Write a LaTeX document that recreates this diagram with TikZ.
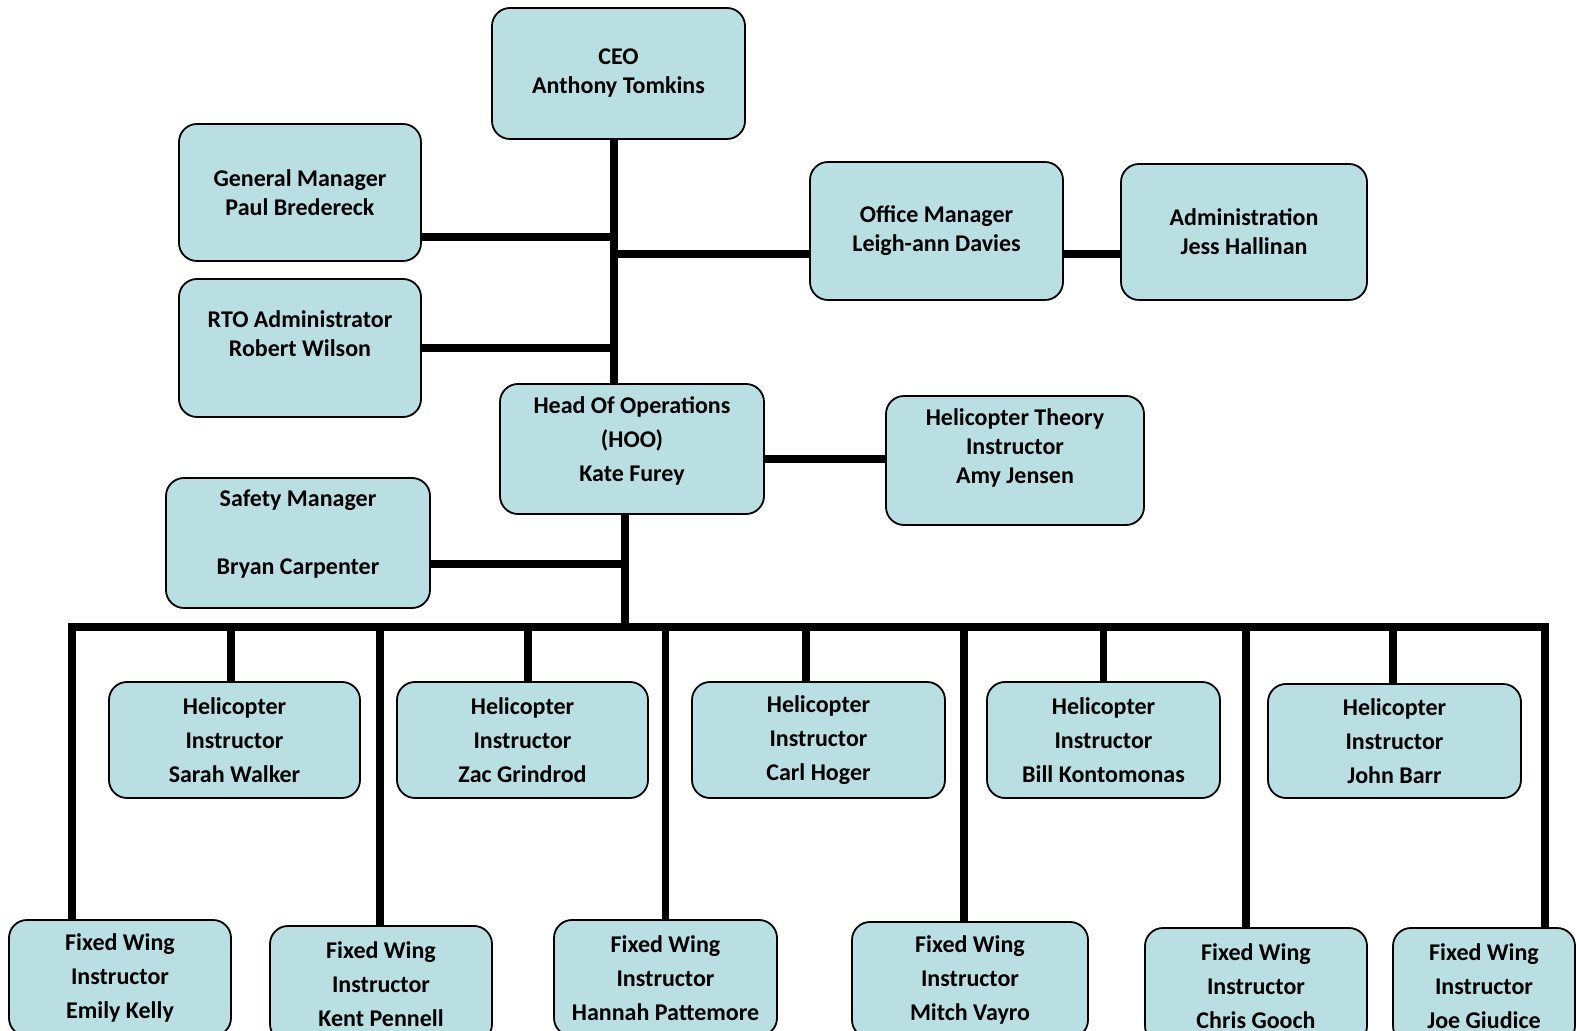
\documentclass[tikz,border=0pt]{standalone}
\usepackage{fontspec}
\setmainfont{Carlito}
\usetikzlibrary{calc}
\definecolor{boxblue}{HTML}{B9DFE3}

\begin{document}
\begin{tikzpicture}[
    x=0.5pt, y=-0.5pt,
    font=\fontsize{12pt}{14.5pt}\selectfont\bfseries,
    box/.style={draw, line width=0.9pt, rounded corners=9pt, fill=boxblue,
        align=center, inner sep=0pt},
    link/.style={line width=3.6pt}
]
\useasboundingbox (0,0) rectangle (1576,1031);
\clip (0,0) rectangle (1576,1031);

% top level
\node[box, minimum width=126.5pt, minimum height=65.5pt] (ceo) at (618.5,73.5)
    {CEO\\Anthony Tomkins};
\node[box, minimum width=121pt, minimum height=68.5pt] (gm) at (300,192.5)
    {General Manager\\Paul Bredereck};
\node[box, minimum width=121pt, minimum height=69pt] (rto) at (300,348)
    {RTO Administrator\\Robert Wilson\\~};
\node[box, minimum width=126.5pt, minimum height=69pt] (office) at (936.5,231)
    {Office Manager\\Leigh-ann Davies};
\node[box, minimum width=123pt, minimum height=68pt] (admin) at (1244,232)
    {Administration\\Jess Hallinan};

% operations
\node[box, minimum width=132pt, minimum height=65pt] (hoo) at (632,449)
    {Head Of Operations\\[2.5pt](HOO)\\[2.5pt]Kate Furey\\[-4.5pt]~};
\node[box, minimum width=129pt, minimum height=64.5pt] (theory) at (1015,460.5)
    {Helicopter Theory\\Instructor\\Amy Jensen\\~};
\node[box, minimum width=132pt, minimum height=65pt] (safety) at (298,543)
    {Safety Manager\\[19.7pt]Bryan Carpenter\\[-3.5pt]~};

% helicopter instructors
\node[box, minimum width=125.5pt, minimum height=58pt] (sarah) at (234.5,740)
    {Helicopter\\[2.5pt]Instructor\\[2.5pt]Sarah Walker};
\node[box, minimum width=125.5pt, minimum height=58pt] (zac) at (522.5,740)
    {Helicopter\\[2.5pt]Instructor\\[2.5pt]Zac Grindrod};
\node[box, minimum width=126.5pt, minimum height=58pt] (carl) at (818.5,740)
    {Helicopter\\[2.5pt]Instructor\\[2.5pt]Carl Hoger};
\node[box, minimum width=116.5pt, minimum height=58pt] (bill) at (1103.5,740)
    {Helicopter\\[2.5pt]Instructor\\[2.5pt]Bill Kontomonas};
\node[box, minimum width=126.5pt, minimum height=57pt] (john) at (1394.5,741)
    {Helicopter\\[2.5pt]Instructor\\[2.5pt]John Barr};

% fixed wing instructors
\node[box, minimum width=111pt, minimum height=58pt] (emily) at (120,978)
    {Fixed Wing\\[2.5pt]Instructor\\[2.5pt]Emily Kelly};
\node[box, minimum width=111pt, minimum height=58pt] (kent) at (381,984)
    {Fixed Wing\\[2.5pt]Instructor\\[2.5pt]Kent Pennell};
\node[box, minimum width=111.5pt, minimum height=58pt] (hannah) at (665.5,978)
    {Fixed Wing\\[2.5pt]Instructor\\[2.5pt]Hannah Pattemore};
\node[box, minimum width=118pt, minimum height=58pt] (mitch) at (970,980)
    {Fixed Wing\\[2.5pt]Instructor\\[2.5pt]Mitch Vayro};
\node[box, minimum width=111pt, minimum height=58pt] (chris) at (1256,986)
    {Fixed Wing\\[2.5pt]Instructor\\[2.5pt]Chris Gooch};
\node[box, minimum width=91pt, minimum height=58pt] (joe) at (1484,986)
    {Fixed Wing\\[2.5pt]Instructor\\[2.5pt]Joe Giudice};

% links
\coordinate (bus) at (625,627);
\draw[link] ($(ceo.south)+(-4.5,0)$) coordinate (trunk) -- (trunk |- hoo.north);
\draw[link] ($(gm.east)+(0,44.5)$) coordinate (g) -- (g -| trunk);
\draw[link] (rto.east) -- (rto.east -| trunk);
\draw[link] ($(office.west)+(0,23)$) coordinate (o) -- (o -| trunk);
\draw[link] (o -| office.east) -- (o -| admin.west);
\draw[link] ($(theory.west)+(0,-1.5)$) coordinate (t) -- (t -| hoo.east);
\draw[link] ($(hoo.south)+(-7,0)$) coordinate (h) -- (h |- bus);
\draw[link] ($(safety.east)+(0,21)$) coordinate (s) -- (s -| h);
\draw[link] ($(emily.north)+(-48,0)$) |- (bus) -| ($(joe.north)+(61,0)$);
\foreach \n/\d in {sarah/-3.5, zac/5.5, carl/-12.5, bill/0, john/-1.5,
                   kent/-1, hannah/0, mitch/-6, chris/-10}
    \draw[link] ($(\n.north)+(\d,0)$) coordinate (top) -- (top |- bus);
\end{tikzpicture}
\end{document}
